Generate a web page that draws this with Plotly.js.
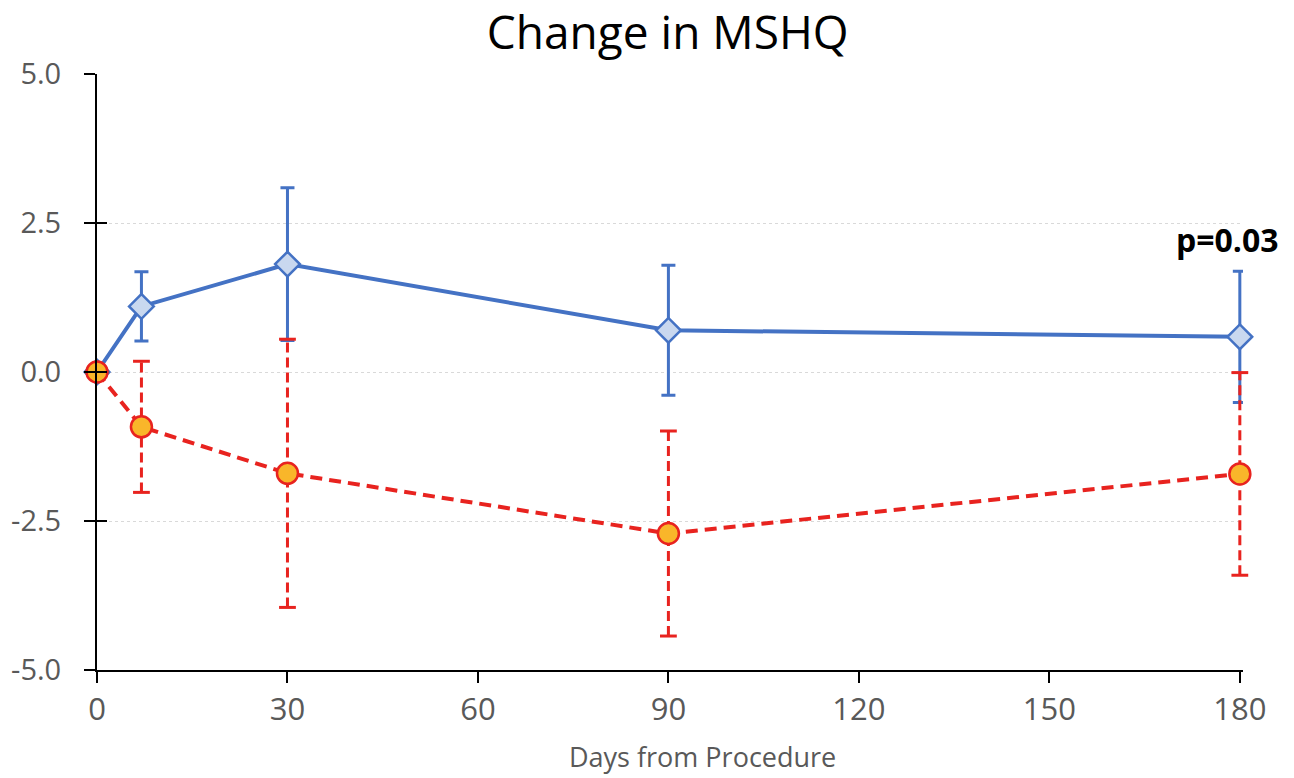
<!DOCTYPE html>
<html>
<head>
<meta charset="utf-8">
<script src="https://cdn.plot.ly/plotly-3.0.1.min.js"></script>
<style>html,body{margin:0;padding:0;background:#fff;}#chart{width:1294px;height:778px;}</style>
</head>
<body>
<div id="chart"></div>
<script>
// Data
var days = [0, 7, 30, 90, 180];
var blueMean = [0, 1.10, 1.81, 0.70, 0.59];
var blueErr = [0, 0.58, 1.28, 1.09, 1.10];
var redMean = [0, -0.92, -1.70, -2.71, -1.71];
var redErr = [0, 1.10, 2.25, 1.72, 1.70];
var yTicks = [-5, -2.5, 0, 2.5, 5];
var yTickText = ['-5.0', '-2.5', '0.0', '2.5', '5.0'];
var xTicks = [0, 30, 60, 90, 120, 150, 180];
var pLabel = 'p=0.03';
var xTitle = 'Days from Procedure';

var BLUE = '#4472C4';
var RED = '#E8231F';

// Dashed red error bars built from the data
var ebX = [], ebY = [], capX = [], capY = [];
for (var i = 0; i < days.length; i++) {
  if (redErr[i] === 0) continue;
  ebX.push(days[i], days[i], null);
  ebY.push(redMean[i] - redErr[i], redMean[i] + redErr[i], null);
  capX.push(days[i], days[i]);
  capY.push(redMean[i] - redErr[i], redMean[i] + redErr[i]);
}

var traces = [
  {
    x: [], y: [], yaxis: 'y2', type: 'scatter', hoverinfo: 'skip', showlegend: false
  },
  {
    x: days, y: blueMean, type: 'scatter', mode: 'lines+markers',
    line: {color: BLUE, width: 4},
    marker: {symbol: 'diamond', size: 19, color: '#C9D8EF', line: {color: BLUE, width: 2.5}},
    error_y: {type: 'data', array: blueErr.map(function(v){return v===0?null:v;}), visible: true, color: BLUE, thickness: 3, width: 7},
    cliponaxis: false, hoverinfo: 'skip', showlegend: false
  },
  {
    x: ebX, y: ebY, type: 'scatter', mode: 'lines',
    line: {color: RED, width: 3, dash: '10px,5px'},
    cliponaxis: false, hoverinfo: 'skip', showlegend: false
  },
  {
    x: capX, y: capY, type: 'scatter', mode: 'markers',
    marker: {symbol: 'line-ew', size: 12, line: {color: RED, width: 3}},
    cliponaxis: false, hoverinfo: 'skip', showlegend: false
  },
  {
    x: days, y: redMean, type: 'scatter', mode: 'lines+markers',
    line: {color: RED, width: 4, dash: '12px,7px'},
    marker: {symbol: 'circle', size: 21, color: '#F9B62A', line: {color: RED, width: 2.5}},
    cliponaxis: false, hoverinfo: 'skip', showlegend: false
  }
];

var layout = {
  width: 1294, height: 778,
  margin: {l: 97, r: 51, t: 74, b: 108},
  paper_bgcolor: '#ffffff', plot_bgcolor: '#ffffff',
  title: {text: 'Change in MSHQ', font: {family: 'Open Sans, Noto Sans, sans-serif', size: 46, color: '#000'}, x: 0.516, xanchor: 'center', y: 0.958, yanchor: 'middle'},
  xaxis: {
    range: [0, 180.5], tickvals: xTicks, ticktext: xTicks.map(String),
    showline: true, linecolor: '#000', linewidth: 2,
    ticks: 'outside', ticklen: 11, tickwidth: 2, tickcolor: '#000',
    showgrid: false, zeroline: false,
    tickfont: {family: 'Open Sans, sans-serif', size: 31, color: '#595959'}
  },
  yaxis: {
    range: [-5, 5], tickvals: yTicks, ticktext: yTickText,
    showline: true, linecolor: '#000', linewidth: 2,
    ticks: 'outside', ticklen: 11, tickwidth: 2, tickcolor: '#000',
    showgrid: true, gridcolor: '#D9D9D9', griddash: 'dot', gridwidth: 1,
    zeroline: false,
    tickfont: {family: 'Open Sans, DejaVu Sans, sans-serif', size: 29, color: '#595959'},
    ticklabelstandoff: 17
  },
  yaxis2: {
    overlaying: 'y', side: 'left', range: [-5, 5], tickvals: yTicks,
    showticklabels: false, showgrid: false, zeroline: false, showline: false,
    ticks: 'inside', ticklen: 10, tickwidth: 2, tickcolor: '#000'
  },
  annotations: [
    {
      x: days[days.length - 1], y: 2.22, xref: 'x', yref: 'y',
      text: '<b>' + pLabel + '</b>', showarrow: false,
      xanchor: 'center', yanchor: 'middle', xshift: -12,
      font: {family: 'Open Sans, Noto Sans, sans-serif', size: 32, color: '#000'}
    },
    {
      x: 0, y: 0, xref: 'paper', yref: 'paper',
      text: xTitle, showarrow: false, xanchor: 'center', yanchor: 'middle',
      font: {family: 'Open Sans, sans-serif', size: 27, color: '#595959'}
    }
  ]
};
// place the x-axis title annotation (pixel position converted to plot-area fraction)
(function(){
  var a = layout.annotations[1];
  var pw = 1294 - layout.margin.l - layout.margin.r;
  var ph = 778 - layout.margin.t - layout.margin.b;
  a.x = (702 - layout.margin.l) / pw;
  a.y = (778 - layout.margin.b - 756) / ph;
})();

Plotly.newPlot('chart', traces, layout, {staticPlot: true, displayModeBar: false});
</script>
</body>
</html>
